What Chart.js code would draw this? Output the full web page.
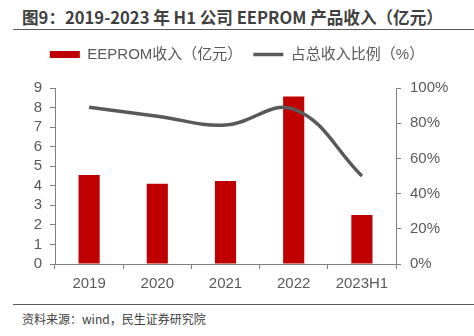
<!DOCTYPE html>
<html>
<head>
<meta charset="utf-8">
<script src="https://cdn.jsdelivr.net/npm/chart.js@4.4.0/dist/chart.umd.min.js"></script>
<style>
    body { margin: 0; background: #fff; }
    #wrap { position: relative; width: 474px; height: 336px; overflow: hidden; }
    #title {
        position: absolute; left: 22px; top: 6px;
        font: bold 16.6px "Noto Sans CJK SC", sans-serif; color: #404040;
        line-height: 22px; white-space: nowrap;
    }
    #topline { position: absolute; left: 13px; right: 0; top: 29px; height: 0; border-top: 1.5px solid #595959; }
    #parent { position: absolute; left: 0; top: 36px; width: 474px; height: 264px; }
    #bottomline { position: absolute; left: 13px; right: 0; top: 304px; height: 0; border-top: 1.5px solid #595959; }
    #source {
        position: absolute; left: 22px; top: 311px;
        font: 12px "Noto Sans CJK SC", sans-serif; color: #404040;
        line-height: 16px; white-space: nowrap;
    }
</style>
</head>
<body>
<div id="wrap">
    <div id="title">图9：2019-2023 年 H1 公司 EEPROM 产品收入（亿元）</div>
    <div id="topline"></div>
    <div id="parent"><canvas id="myChart"></canvas></div>
    <div id="bottomline"></div>
    <div id="source">资料来源：wind，民生证券研究院</div>
</div>
<script>
var categories = ['2019', '2020', '2021', '2022', '2023H1'];
var revenue = [4.55, 4.1, 4.25, 8.56, 2.5];
var sharePct = [89, 84, 79, 88, 50];
var revenueTicks = [0, 1, 2, 3, 4, 5, 6, 7, 8, 9];
var shareTicks = [0, 20, 40, 60, 80, 100];

var seriesNames = ['EEPROM收入（亿元）', '占总收入比例（%）'];
var barColor = '#C00000';
var lineColor = '#595959';
var axisColor = '#808080';
var textColor = '#595959';
var fontFamily = '"Liberation Sans", "Noto Sans CJK SC", sans-serif';

function drawChart() {
    var ctx = document.getElementById('myChart');
    var parent = document.getElementById('parent');
    ctx.width = parent.offsetWidth;
    ctx.height = parent.offsetHeight;

    var legendHeight = {
        id: 'legendHeight',
        afterInit: function (chart) {
            var fit = chart.legend.fit;
            chart.legend.fit = function () {
                fit.bind(chart.legend)();
                this.height = 52;
            };
        }
    };

    var dataset = [{
        type: 'bar',
        label: seriesNames[0],
        data: revenue,
        backgroundColor: barColor,
        borderWidth: 0,
        yAxisID: 'y',
        categoryPercentage: 1,
        barPercentage: 0.31,
        order: 2
    }, {
        type: 'line',
        label: seriesNames[1],
        data: sharePct,
        borderColor: lineColor,
        backgroundColor: lineColor,
        borderWidth: 3.5,
        tension: 0.4,
        pointRadius: 0,
        pointHoverRadius: 0,
        yAxisID: 'y1',
        order: 1
    }];

    new Chart(ctx, {
        data: {
            labels: categories,
            datasets: dataset
        },
        plugins: [legendHeight],
        options: {
            responsive: false,
            animation: false,
            layout: { padding: 0 },
            plugins: {
                tooltip: { enabled: false },
                legend: {
                    position: 'top',
                    labels: {
                        color: textColor,
                        font: { family: fontFamily, size: 15 },
                        usePointStyle: true,
                        pointStyleWidth: 30,
                        boxWidth: 30,
                        boxHeight: 7,
                        padding: 11,
                        generateLabels: function (chart) {
                            var items = Chart.defaults.plugins.legend.labels.generateLabels(chart);
                            items.sort(function (a, b) { return a.datasetIndex - b.datasetIndex; });
                            items.forEach(function (it) {
                                if (it.datasetIndex === 0) {
                                    it.pointStyle = 'rect';
                                    it.lineWidth = 0;
                                    it.fillStyle = barColor;
                                } else {
                                    it.pointStyle = 'line';
                                    it.lineWidth = 3.5;
                                    it.strokeStyle = lineColor;
                                }
                            });
                            return items;
                        }
                    }
                }
            },
            scales: {
                x: {
                    offset: true,
                    grid: {
                        display: true,
                        offset: true,
                        drawOnChartArea: false,
                        tickLength: 5,
                        color: axisColor
                    },
                    border: { display: true, color: axisColor, width: 1 },
                    ticks: {
                        color: textColor,
                        font: { family: fontFamily, size: 15 },
                        padding: 6,
                        maxRotation: 0
                    },
                    afterFit: function (scale) { scale.height = 36; }
                },
                y: {
                    position: 'left',
                    min: 0,
                    max: 9,
                    afterBuildTicks: function (scale) {
                        scale.ticks = revenueTicks.map(function (v) { return { value: v }; });
                    },
                    grid: {
                        drawOnChartArea: false,
                        tickLength: 5,
                        color: axisColor
                    },
                    border: { display: true, color: axisColor, width: 1 },
                    ticks: {
                        color: textColor,
                        font: { family: fontFamily, size: 15 },
                        padding: 8,
                        autoSkip: false
                    },
                    afterFit: function (scale) { scale.width = 55; }
                },
                y1: {
                    position: 'right',
                    min: 0,
                    max: 100,
                    afterBuildTicks: function (scale) {
                        scale.ticks = shareTicks.map(function (v) { return { value: v }; });
                    },
                    grid: {
                        drawOnChartArea: false,
                        tickLength: 5,
                        color: axisColor
                    },
                    border: { display: true, color: axisColor, width: 1 },
                    ticks: {
                        color: textColor,
                        font: { family: fontFamily, size: 15 },
                        padding: 9,
                        autoSkip: false,
                        callback: function (v) { return v + '%'; }
                    },
                    afterFit: function (scale) { scale.width = 78; }
                }
            }
        }
    });
}

drawChart();
</script>
</body>
</html>
